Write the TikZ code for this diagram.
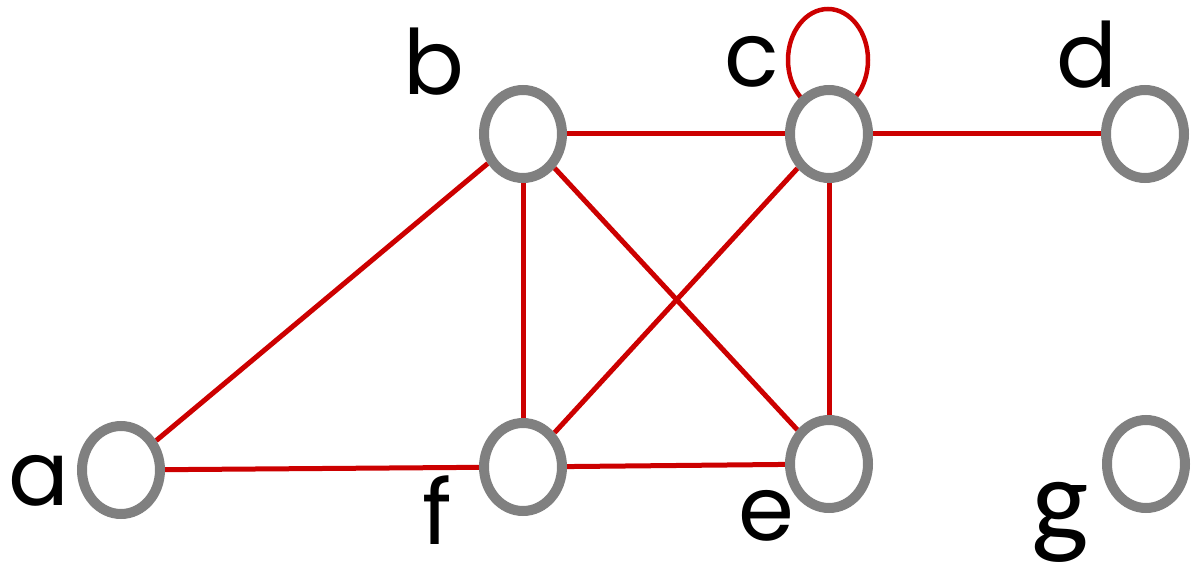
\documentclass[tikz,border=0pt]{standalone}
\usepackage{fontspec}
\setmainfont{Poppins}
\newfontfamily\gfont{Carlito}
\usetikzlibrary{shapes.geometric,backgrounds,shadows}
\definecolor{edgered}{HTML}{CC0000}
\definecolor{nodegray}{HTML}{808080}
\tikzset{
  vertex/.style={ellipse, draw=nodegray, line width=10pt, fill=white,
    minimum width=78pt, minimum height=88pt, inner sep=0pt,
    drop shadow={opacity=0.18, shadow xshift=1pt, shadow yshift=-3pt}},
  edge/.style={draw=edgered, line width=5pt},
  lbl/.style={inner sep=0pt, font=\fontsize{90}{94}\selectfont},
}
\begin{document}
\begin{tikzpicture}[x=1pt,y=-1pt]
\useasboundingbox (0,0) rectangle (1203,567);
\node[vertex] (b) at (523,134) {};
\node[vertex] (c) at (829,134) {};
\node[vertex] (d) at (1145,134) {};
\node[vertex] (a) at (121,470) {};
\node[vertex] (f) at (523,467) {};
\node[vertex] (e) at (829,464) {};
\node[vertex] (g) at (1146,464) {};
\node[lbl] (lb) at (434,62) {b};
\node[lbl] (lc) at (752,62) {c};
\node[lbl] (ld) at (1087,55) {d};
\node[lbl] (la) at (39,481) {a};
\node[lbl] (lf) at (437,510) {f};
\node[lbl] (le) at (766,516) {e};
\node[lbl, font=\gfont\fontsize{122}{126}\selectfont] (lg) at (1060,522) {g};
\begin{pgfonlayer}{background}
\draw[edge, line width=4.5pt] (c.center) ++(-1,-74) ellipse [x radius=40, y radius=51];
\draw[edge] (b) -- (c);
\draw[edge] (c) -- (d);
\draw[edge] (b) -- (a);
\draw[edge] (b) -- (f);
\draw[edge] (b) -- (e);
\draw[edge] (c) -- (f);
\draw[edge] (c) -- (e);
\draw[edge] (a) -- (f);
\draw[edge] (f) -- (e);
\end{pgfonlayer}
\end{tikzpicture}
\end{document}
